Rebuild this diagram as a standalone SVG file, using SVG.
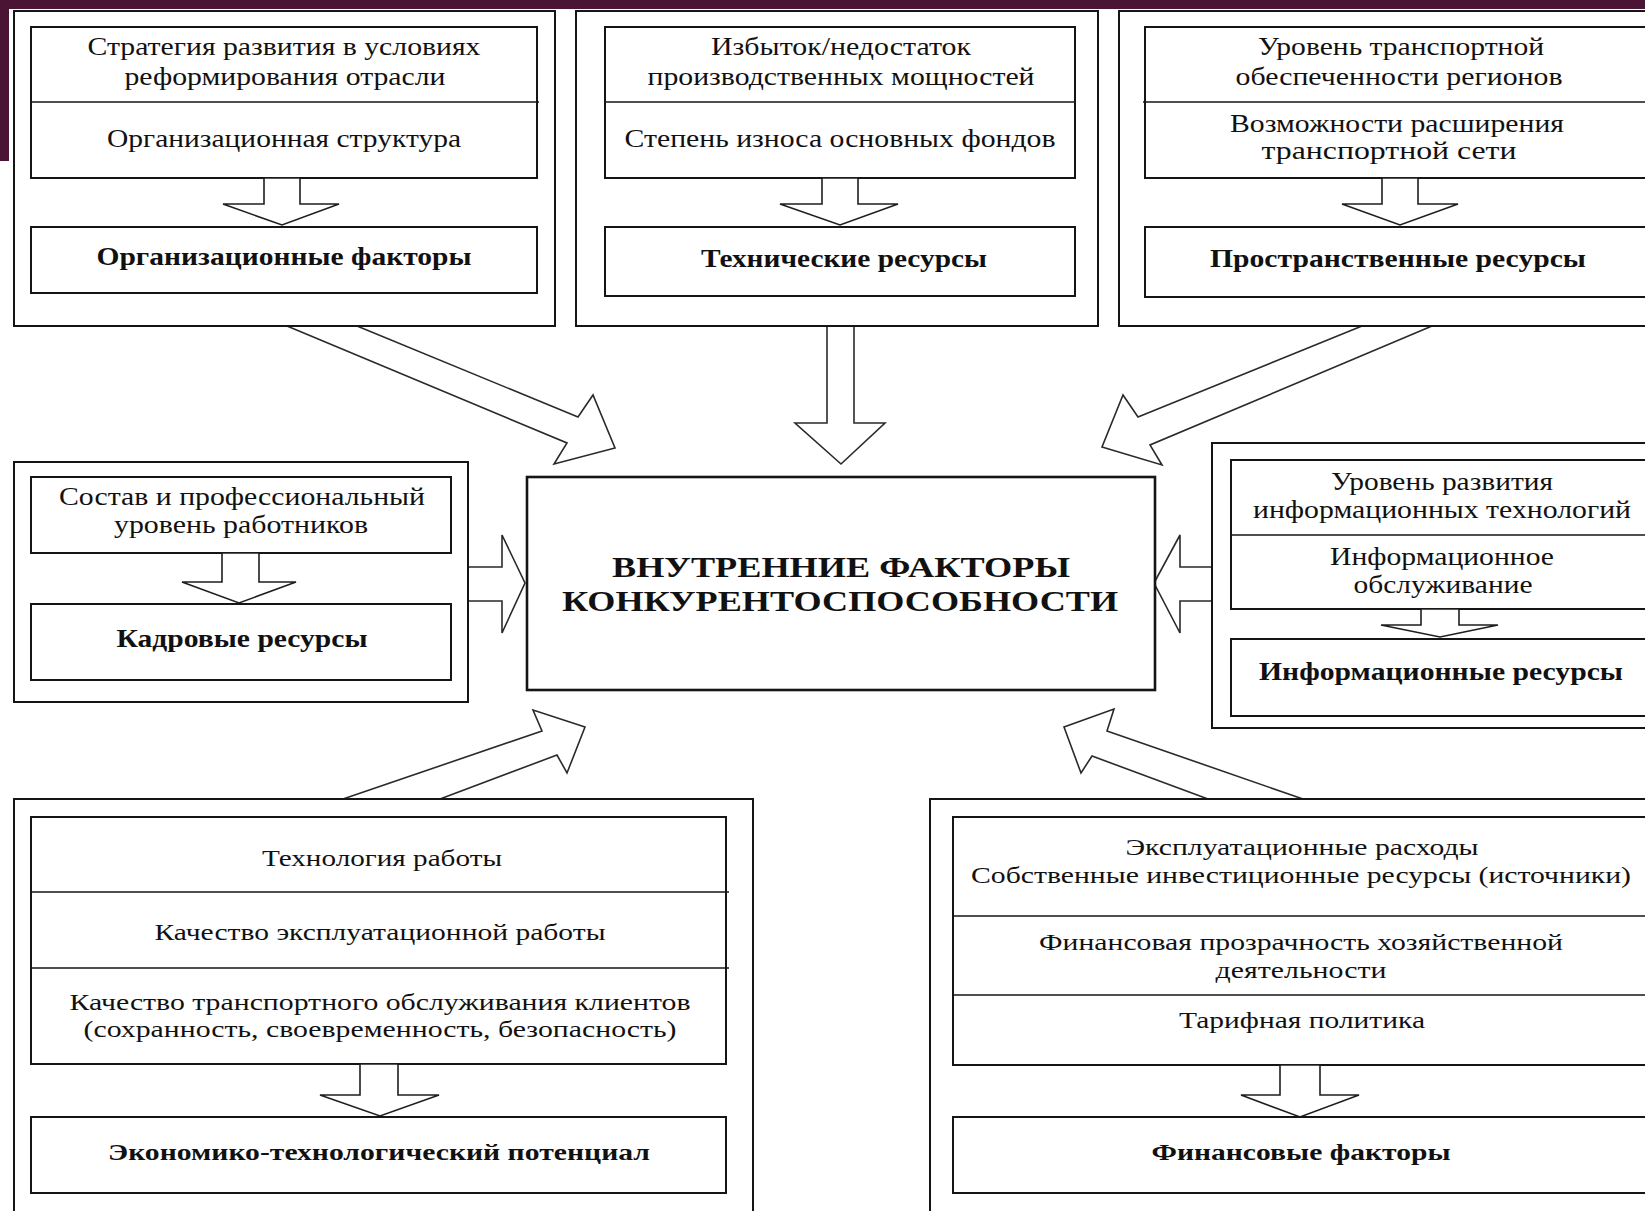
<svg xmlns="http://www.w3.org/2000/svg" width="1645" height="1211" viewBox="0 0 1645 1211">
<style>
.bx{fill:#fff;stroke:#151515;stroke-width:2}
.cb{fill:#fff;stroke:#151515;stroke-width:2.6}
.dv{stroke:#151515;stroke-width:1.6;fill:none}
.sa{fill:#fff;stroke:#1e1e1e;stroke-width:1.6;stroke-linejoin:miter}
.ba{fill:#fff;stroke:#2a2a2a;stroke-width:1.6;stroke-linejoin:miter}
.t{font-family:"Liberation Serif","Times New Roman",serif;font-size:25px;fill:#111;text-anchor:middle}
.s{font-size:23px}
.b{font-weight:bold}
.h{font-size:29px;font-weight:bold}
</style>
<rect x="0" y="0" width="1645" height="1211" fill="#fff"/>
<rect x="0" y="0" width="1645" height="9" fill="#4a1535"/>
<rect x="0" y="0" width="9" height="161" fill="#4a1535"/>

<g id="connectors">
<path class="ba" d="M287,326 L567,443 L554,464 L615,448 L593,395 L578,417 L357,326"/>
<path class="ba" d="M827,326 L827,423 L795,423 L841,464 L885,423 L854,423 L854,326"/>
<path class="ba" d="M1362,326 L1138,417 L1123,395 L1102,447 L1162,465 L1150,445 L1432,326"/>
<path class="ba" d="M468,567 L502,567 L502,535 L525,583 L502,633 L502,601 L468,601"/>
<path class="ba" d="M1212,567 L1180,567 L1180,535 L1154,583 L1180,633 L1180,601 L1212,601"/>
<path class="ba" d="M343,799 L542,731 L533,710 L585,727 L567,773 L557,755 L440,799"/>
<path class="ba" d="M1303,799 L1107,731 L1114,709 L1064,727 L1081,773 L1092,756 L1208,799"/>
</g>

<g id="org">
<rect class="bx" x="14" y="11" width="541" height="315"/>
<rect class="bx" x="31" y="27" width="506" height="151"/>
<line class="dv" x1="31" y1="102" x2="539" y2="102"/>
<polygon class="sa" points="264,178 264,204 223,204 282,225 339,204 300,204 300,178"/>
<rect class="bx" x="31" y="227" width="506" height="66"/>
<text class="t" x="284" y="55" textLength="393" lengthAdjust="spacingAndGlyphs">Стратегия развития в условиях</text>
<text class="t" x="285" y="85" textLength="321" lengthAdjust="spacingAndGlyphs">реформирования отрасли</text>
<text class="t" x="284" y="147" textLength="354" lengthAdjust="spacingAndGlyphs">Организационная структура</text>
<text class="t b" x="284" y="265" textLength="375" lengthAdjust="spacingAndGlyphs">Организационные факторы</text>
</g>

<g id="tech">
<rect class="bx" x="576" y="11" width="522" height="315"/>
<rect class="bx" x="605" y="27" width="470" height="151"/>
<line class="dv" x1="605" y1="102" x2="1075" y2="102"/>
<polygon class="sa" points="822,178 822,204 780,204 840,225 898,204 858,204 858,178"/>
<rect class="bx" x="605" y="227" width="470" height="69"/>
<text class="t" x="841" y="55" textLength="260" lengthAdjust="spacingAndGlyphs">Избыток/недостаток</text>
<text class="t" x="841" y="85" textLength="387" lengthAdjust="spacingAndGlyphs">производственных мощностей</text>
<text class="t" x="840" y="147" textLength="431" lengthAdjust="spacingAndGlyphs">Степень износа основных фондов</text>
<text class="t b" x="844" y="267" textLength="286" lengthAdjust="spacingAndGlyphs">Технические ресурсы</text>
</g>

<g id="space">
<rect class="bx" x="1119" y="11" width="560" height="315"/>
<rect class="bx" x="1145" y="27" width="510" height="151"/>
<line class="dv" x1="1143" y1="102" x2="1655" y2="102"/>
<polygon class="sa" points="1382,178 1382,204 1342,204 1400,225 1458,204 1418,204 1418,178"/>
<rect class="bx" x="1145" y="227" width="510" height="70"/>
<text class="t" x="1401" y="55" textLength="286" lengthAdjust="spacingAndGlyphs">Уровень транспортной</text>
<text class="t" x="1399" y="85" textLength="327" lengthAdjust="spacingAndGlyphs">обеспеченности регионов</text>
<text class="t" x="1397" y="132" textLength="334" lengthAdjust="spacingAndGlyphs">Возможности расширения</text>
<text class="t" x="1389" y="159" textLength="255" lengthAdjust="spacingAndGlyphs">транспортной сети</text>
<text class="t b" x="1398" y="267" textLength="376" lengthAdjust="spacingAndGlyphs">Пространственные ресурсы</text>
</g>

<g id="staff">
<rect class="bx" x="14" y="462" width="454" height="240"/>
<rect class="bx" x="31" y="477" width="420" height="76"/>
<polygon class="sa" points="222,553 222,582 182,582 239,603 296,582 259,582 259,553"/>
<rect class="bx" x="31" y="604" width="420" height="76"/>
<text class="t" x="242" y="505" textLength="366" lengthAdjust="spacingAndGlyphs">Состав и профессиональный</text>
<text class="t" x="241" y="533" textLength="254" lengthAdjust="spacingAndGlyphs">уровень работников</text>
<text class="t b" x="242" y="647" textLength="251" lengthAdjust="spacingAndGlyphs">Кадровые ресурсы</text>
</g>

<g id="center">
<rect class="cb" x="527" y="477" width="628" height="213"/>
<text class="t h" x="841" y="577" textLength="458" lengthAdjust="spacingAndGlyphs">ВНУТРЕННИЕ ФАКТОРЫ</text>
<text class="t h" x="840" y="611" textLength="556" lengthAdjust="spacingAndGlyphs">КОНКУРЕНТОСПОСОБНОСТИ</text>
</g>

<g id="info">
<rect class="bx" x="1212" y="443" width="470" height="285"/>
<rect class="bx" x="1231" y="460" width="431" height="149"/>
<line class="dv" x1="1231" y1="535" x2="1662" y2="535"/>
<polygon class="sa" points="1421,609 1421,625 1381,625 1440,637 1498,625 1459,625 1459,609"/>
<rect class="bx" x="1231" y="639" width="431" height="77"/>
<text class="t" x="1442" y="490" textLength="222" lengthAdjust="spacingAndGlyphs">Уровень развития</text>
<text class="t" x="1442" y="518" textLength="378" lengthAdjust="spacingAndGlyphs">информационных технологий</text>
<text class="t" x="1442" y="565" textLength="224" lengthAdjust="spacingAndGlyphs">Информационное</text>
<text class="t" x="1443" y="593" textLength="179" lengthAdjust="spacingAndGlyphs">обслуживание</text>
<text class="t b" x="1441" y="680" textLength="364" lengthAdjust="spacingAndGlyphs">Информационные ресурсы</text>
</g>

<g id="econ">
<rect class="bx" x="14" y="799" width="739" height="440"/>
<rect class="bx" x="31" y="817" width="695" height="247"/>
<line class="dv" x1="31" y1="892" x2="729" y2="892"/>
<line class="dv" x1="31" y1="968" x2="729" y2="968"/>
<polygon class="sa" points="360,1064 360,1095 320,1095 380,1116 439,1095 398,1095 398,1064"/>
<rect class="bx" x="31" y="1117" width="695" height="76"/>
<text class="t s" x="382" y="866" textLength="240" lengthAdjust="spacingAndGlyphs">Технология работы</text>
<text class="t s" x="380" y="940" textLength="451" lengthAdjust="spacingAndGlyphs">Качество эксплуатационной работы</text>
<text class="t s" x="380" y="1010" textLength="621" lengthAdjust="spacingAndGlyphs">Качество транспортного обслуживания клиентов</text>
<text class="t s" x="380" y="1037" textLength="593" lengthAdjust="spacingAndGlyphs">(сохранность, своевременность, безопасность)</text>
<text class="t s b" x="379" y="1160" textLength="542" lengthAdjust="spacingAndGlyphs">Экономико-технологический потенциал</text>
</g>

<g id="finance">
<rect class="bx" x="930" y="799" width="750" height="440"/>
<rect class="bx" x="953" y="817" width="707" height="248"/>
<line class="dv" x1="953" y1="916" x2="1660" y2="916"/>
<line class="dv" x1="953" y1="995" x2="1660" y2="995"/>
<polygon class="sa" points="1280,1065 1280,1095 1241,1095 1300,1117 1359,1095 1320,1095 1320,1065"/>
<rect class="bx" x="953" y="1117" width="707" height="76"/>
<text class="t s" x="1302" y="855" textLength="353" lengthAdjust="spacingAndGlyphs">Эксплуатационные расходы</text>
<text class="t s" x="1301" y="883" textLength="660" lengthAdjust="spacingAndGlyphs">Собственные инвестиционные ресурсы (источники)</text>
<text class="t s" x="1301" y="950" textLength="524" lengthAdjust="spacingAndGlyphs">Финансовая прозрачность хозяйственной</text>
<text class="t s" x="1301" y="978" textLength="171" lengthAdjust="spacingAndGlyphs">деятельности</text>
<text class="t s" x="1302" y="1028" textLength="246" lengthAdjust="spacingAndGlyphs">Тарифная политика</text>
<text class="t s b" x="1301" y="1160" textLength="299" lengthAdjust="spacingAndGlyphs">Финансовые факторы</text>
</g>
</svg>
